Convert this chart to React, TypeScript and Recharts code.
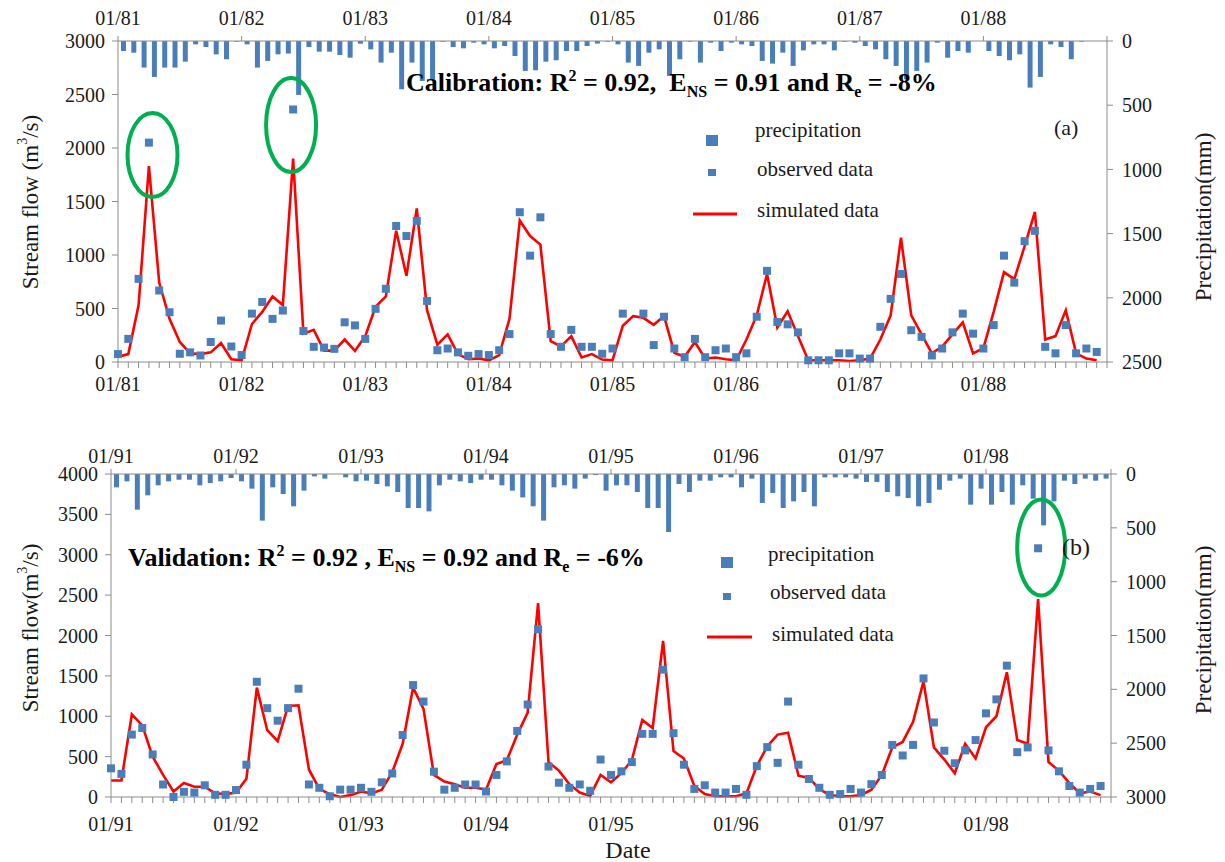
import React from 'react';
import { ComposedChart, Bar, Line, XAxis, YAxis, ReferenceDot } from 'recharts';

const FONT = '"Liberation Serif", "Times New Roman", serif';
const BLUE = '#4a7ebb';
const AXIS = '#8c8c8c';
const GREEN = '#00b050';

// ---- categories / tick labels ----
const calYearLabels = ['01/81', '01/82', '01/83', '01/84', '01/85', '01/86', '01/87', '01/88'];
const valYearLabels = ['01/91', '01/92', '01/93', '01/94', '01/95', '01/96', '01/97', '01/98'];
const calFlowTicks = [0, 500, 1000, 1500, 2000, 2500, 3000];
const calPrecTicks = [0, 500, 1000, 1500, 2000, 2500];
const valFlowTicks = [0, 500, 1000, 1500, 2000, 2500, 3000, 3500, 4000];
const valPrecTicks = [0, 500, 1000, 1500, 2000, 2500, 3000];
const monthTicks = Array.from({ length: 97 }, (_, i) => i);
const yearTicks = [0, 12, 24, 36, 48, 60, 72, 84, 96];

// ---- (a) calibration 1981-1988 ----
const calObserved: (number | null)[] = [
  74, 216, 777, 2050, 668, 465, 77, 90, 61, 187, 387, 145,
  65, 452, 561, 403, 481, 2360, 290, 142, 135, 123, 371, 342,
  216, 497, 684, 1271, 1177, 1319, 571, 110, 126, 90, 58, 74,
  65, 110, 261, 1400, 994, 1352, 261, 142, 300, 142, 142, 77,
  126, 452, null, 452, 158, 423, 126, 45, 216, 45, 110, 126,
  45, 81, 423, 852, 374, 352, 277, 16, 16, 16, 81, 81,
  32, 32, 329, 590, 823, 297, 235, 61, 126, 277, 452, 265,
  126, 345, 994, 742, 1129, 1226, 142, 81, 345, 81, 126, 94,
];
const calSimulated = [
  48, 74, 532, 1830, 742, 403, 187, 81, 74, 90, 177, 26,
  16, 355, 468, 613, 532, 1900, 264, 300, 106, 106, 210, 103,
  242, 516, 613, 1226, 806, 1435, 484, 161, 258, 74, 26, 32,
  16, 65, 403, 1323, 1177, 1097, 194, 145, 242, 42, 74, 23,
  16, 339, 429, 413, 348, 429, 87, 48, 187, 32, 42, 26,
  16, 210, 436, 823, 323, 474, 242, 16, 16, 16, 16, 10,
  16, 32, 210, 436, 1161, 436, 258, 81, 145, 258, 371, 81,
  129, 468, 839, 774, 1081, 1403, 210, 242, 484, 81, 32, 16,
];
const calPrecip = [
  78, 91, 207, 280, 207, 207, 161, 26, 47, 104, 142, 5,
  26, 207, 155, 104, 98, 420, 47, 83, 83, 109, 130, 21,
  65, 168, 91, 376, 168, 311, 300, 5, 47, 57, 13, 26,
  57, 39, 117, 233, 228, 161, 150, 78, 78, 39, 20, 5,
  26, 168, 194, 91, 65, 272, 142, 5, 168, 13, 78, 13,
  26, 39, 155, 176, 91, 194, 73, 26, 26, 73, 5, 13,
  39, 65, 142, 194, 298, 233, 168, 13, 130, 78, 91, 0,
  78, 117, 150, 104, 363, 280, 26, 47, 142, 5, 0, 0,
];

// ---- (b) validation 1991-1998 ----
const valObserved: (number | null)[] = [
  355, 286, 773, 855, 527, 155, 0, 64, 55, 145, 27, 27,
  86, 400, 1427, 1100, 945, 1100, 1341, 155, 114, 9, 91, 91,
  114, 64, 182, 291, 768, 1386, 1182, 314, 91, 114, 155, 155,
  68, 273, 441, 818, 1145, 2077, 377, 177, 114, 155, 77, 464,
  273, 318, 432, 782, 782, 1577, 791, 400, 100, 145, 55, 55,
  100, 27, 382, 618, 423, 1182, 400, 223, 114, 27, 36, 100,
  55, 159, 273, 645, 514, 645, 1468, 923, 573, 418, 577, 705,
  1036, 1209, 1627, 555, 614, 3080, 577, 318, 136, 55, 100, 136,
];
const valSimulated = [
  205, 205, 1023, 886, 500, 273, 68, 173, 127, 127, 45, 36,
  55, 227, 1355, 827, 691, 1127, 1136, 341, 100, 36, 0, 23,
  68, 45, 91, 309, 659, 1355, 1091, 273, 191, 159, 114, 114,
  91, 409, 455, 773, 1045, 2400, 432, 327, 159, 55, 14, 273,
  182, 295, 455, 955, 855, 1932, 568, 477, 136, 36, 9, 9,
  9, 45, 386, 627, 773, 795, 264, 236, 100, 23, 9, 9,
  23, 91, 273, 614, 682, 932, 1432, 614, 464, 295, 659, 477,
  864, 1000, 1545, 705, 659, 2450, 432, 327, 173, 45, 68, 23,
];
const valPrecip = [
  124, 68, 331, 198, 105, 68, 53, 53, 105, 84, 68, 37,
  68, 136, 433, 124, 186, 300, 155, 22, 43, 0, 31, 68,
  62, 93, 115, 167, 316, 316, 347, 105, 53, 68, 84, 53,
  53, 105, 155, 217, 300, 433, 124, 105, 136, 43, 10, 155,
  105, 105, 167, 316, 316, 539, 93, 167, 62, 62, 31, 31,
  124, 43, 269, 176, 316, 254, 167, 300, 31, 31, 31, 43,
  74, 74, 167, 207, 223, 300, 269, 146, 62, 43, 285, 136,
  285, 167, 285, 105, 229, 477, 254, 62, 93, 43, 62, 43,
];

// circled points (centre in data units)
const calCircles = [
  { x: 3.35, y: 1935, rx: 25, ry: 42 },
  { x: 16.8, y: 2215, rx: 25, ry: 47 },
];
const valCircles = [{ x: 89.3, y: 3090, rx: 24, ry: 48 }];

function buildRows(obs: (number | null)[], sim: number[], prec: number[]) {
  return sim.map((s, i) => ({ m: i, mb: i + 0.5, obs: obs[i], sim: s, prec: prec[i] }));
}

const calRows = buildRows(calObserved, calSimulated, calPrecip);
const valRows = buildRows(valObserved, valSimulated, valPrecip);

const renderSquare = (props: any) => {
  const { cx, cy, index, value } = props;
  if (value == null || cx == null || cy == null || isNaN(cy)) return <g key={`o-${index}`} />;
  return <rect key={`o-${index}`} x={cx - 4} y={cy - 4} width={8} height={8} fill={BLUE} />;
};

const tickStyle = { fontSize: 20, fill: '#1a1a1a', fontFamily: FONT };

function Panel(props: any) {
  const {
    rows, labels, flowDomain, flowTicks, precDomain, precTicks, circles,
    width, height, margin, bottomTickMargin, topTickMargin,
  } = props;
  const fmt = (v: number) => (v % 12 === 0 && v / 12 < labels.length ? labels[v / 12] : '');
  return (
    <ComposedChart width={width} height={height} data={rows} margin={margin}>
      <XAxis
        xAxisId="bottom" dataKey="m" type="number" domain={[0, 96]} ticks={monthTicks}
        interval={0} tickFormatter={fmt} tick={tickStyle} tickSize={6} tickMargin={bottomTickMargin}
        height={30} axisLine={{ stroke: AXIS }} tickLine={{ stroke: AXIS }}
      />
      <XAxis
        xAxisId="top" orientation="top" dataKey="mb" type="number" domain={[0, 96]} ticks={yearTicks}
        interval={0} tickFormatter={fmt} tick={tickStyle} tickSize={5} tickMargin={topTickMargin}
        height={30} axisLine={{ stroke: AXIS }} tickLine={{ stroke: AXIS }}
      />
      <YAxis
        yAxisId="flow" orientation="left" domain={flowDomain} ticks={flowTicks} interval={0}
        width={60} tick={tickStyle} tickSize={6} tickMargin={7}
        axisLine={{ stroke: AXIS }} tickLine={{ stroke: AXIS }}
      />
      <YAxis
        yAxisId="prec" orientation="right" reversed domain={precDomain} ticks={precTicks} interval={0}
        width={60} tick={tickStyle} tickSize={6} tickMargin={9}
        axisLine={{ stroke: AXIS }} tickLine={{ stroke: AXIS }}
      />
      <Bar xAxisId="top" yAxisId="prec" dataKey="prec" fill={BLUE} barSize={5} isAnimationActive={false} />
      <Line
        xAxisId="bottom" yAxisId="flow" dataKey="sim" type="linear" stroke="#ff0000" strokeWidth={2.6}
        dot={false} activeDot={false} isAnimationActive={false}
      />
      <Line
        xAxisId="bottom" yAxisId="flow" dataKey="obs" type="linear" stroke="none" strokeWidth={0}
        dot={renderSquare} activeDot={false} isAnimationActive={false}
      />
      {circles.map((c: any, i: number) => (
        <ReferenceDot
          key={`c-${i}`} xAxisId="bottom" yAxisId="flow" x={c.x} y={c.y} r={c.rx}
          shape={(p: any) => (
            <ellipse cx={p.cx} cy={p.cy} rx={c.rx} ry={c.ry} fill="none" stroke={GREEN} strokeWidth={4} />
          )}
        />
      ))}
    </ComposedChart>
  );
}

function Stat({ x, y, lead, r2, ens, re, sep }: any) {
  return (
    <text x={x} y={y} fontFamily={FONT} fontWeight="bold" fontSize={26} fill="#000">
      <tspan>{lead} R</tspan>
      <tspan fontSize={16} dy={-10}>2</tspan>
      <tspan dy={10}>{` = ${r2}${sep}E`}</tspan>
      <tspan fontSize={16} dy={6}>NS</tspan>
      <tspan dy={-6}>{` = ${ens} and R`}</tspan>
      <tspan fontSize={16} dy={6}>e</tspan>
      <tspan dy={-6}>{` = ${re}`}</tspan>
    </text>
  );
}

function LegendBlock({ sq1, sq2, line, t1, t2, t3 }: any) {
  return (
    <g fontFamily={FONT} fontSize={21} fill="#1a1a1a">
      <rect x={sq1[0]} y={sq1[1]} width={12} height={11} fill={BLUE} />
      <text x={t1[0]} y={t1[1]}>precipitation</text>
      <rect x={sq2[0]} y={sq2[1]} width={8} height={7} fill={BLUE} />
      <text x={t2[0]} y={t2[1]}>observed data</text>
      <line x1={line[0]} y1={line[2]} x2={line[1]} y2={line[2]} stroke="#ff0000" strokeWidth={3} />
      <text x={t3[0]} y={t3[1]}>simulated data</text>
    </g>
  );
}

export default function App() {
  return (
    <div style={{ position: 'absolute', left: 0, top: 0, width: 1225, height: 862, background: '#fff' }}>
      <div style={{ position: 'absolute', left: 0, top: 0 }}>
        <Panel
          rows={calRows} labels={calYearLabels} flowDomain={[0, 3000]} flowTicks={calFlowTicks}
          precDomain={[0, 2500]} precTicks={calPrecTicks} circles={calCircles}
          width={1225} height={400} margin={{ top: 11, right: 58, bottom: 8, left: 58 }}
          bottomTickMargin={9} topTickMargin={11}
        />
      </div>
      <div style={{ position: 'absolute', left: 0, top: 432 }}>
        <Panel
          rows={valRows} labels={valYearLabels} flowDomain={[0, 4000]} flowTicks={valFlowTicks}
          precDomain={[0, 3000]} precTicks={valPrecTicks} circles={valCircles}
          width={1225} height={403} margin={{ top: 12, right: 54, bottom: 8, left: 51 }}
          bottomTickMargin={14} topTickMargin={6}
        />
      </div>
      <svg
        width={1225} height={862}
        style={{ position: 'absolute', left: 0, top: 0, pointerEvents: 'none' }}
      >
        <g fontFamily={FONT} fontSize={23} fill="#1a1a1a">
          <text transform="translate(30,202) rotate(-90)" textAnchor="middle" dominantBaseline="central">
            <tspan>Stream flow (m</tspan>
            <tspan fontSize={14} dy={-8}>3</tspan>
            <tspan dy={8}>/s)</tspan>
          </text>
          <text transform="translate(1203,217) rotate(-90)" textAnchor="middle" dominantBaseline="central">
            Precipitation(mm)
          </text>
          <text transform="translate(30,628) rotate(-90)" textAnchor="middle" dominantBaseline="central">
            <tspan>Stream flow(m</tspan>
            <tspan fontSize={14} dy={-8}>3</tspan>
            <tspan dy={8}>/s)</tspan>
          </text>
          <text transform="translate(1203,630) rotate(-90)" textAnchor="middle" dominantBaseline="central">
            Precipitation(mm)
          </text>
          <text x={628} y={858} textAnchor="middle" fontSize={24}>Date</text>
          <text x={1054} y={135} fontSize={22}>(a)</text>
          <text x={1062} y={555} fontSize={24}>(b)</text>
        </g>
        <Stat x={406} y={91} lead="Calibration:" r2="0.92," ens="0.91" re="-8%" sep={'\u00a0\u00a0'} />
        <Stat x={128} y={566} lead="Validation:" r2="0.92 ," ens="0.92" re="-6%" sep={' '} />
        <LegendBlock
          sq1={[706, 135]} t1={[755, 137]} sq2={[708, 169]} t2={[757, 176]}
          line={[693, 737, 214]} t3={[757, 217]}
        />
        <LegendBlock
          sq1={[721, 557]} t1={[768, 561]} sq2={[723, 593]} t2={[770, 599]}
          line={[707, 752, 637]} t3={[772, 641]}
        />
      </svg>
    </div>
  );
}
